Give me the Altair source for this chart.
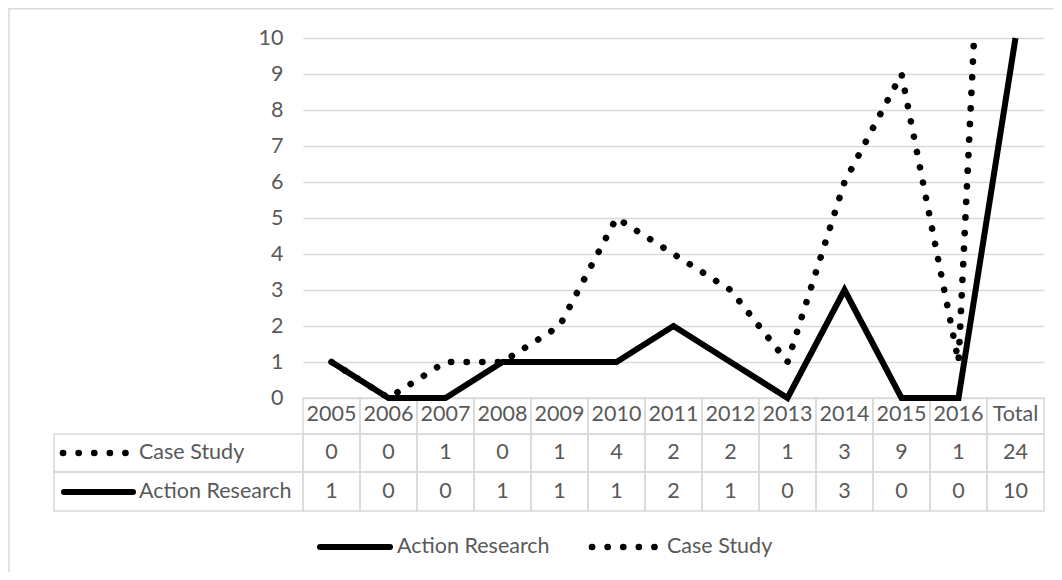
import altair as alt
import pandas as pd

categories = ["2005", "2006", "2007", "2008", "2009", "2010", "2011",
              "2012", "2013", "2014", "2015", "2016", "Total"]
case_study = [0, 0, 1, 0, 1, 4, 2, 2, 1, 3, 9, 1, 24]
action_research = [1, 0, 0, 1, 1, 1, 2, 1, 0, 3, 0, 0, 10]
y_ticks = list(range(0, 11))

FONT = "Lato"
FS = 21.5
GREY = "#595959"
GRID = "#d9d9d9"
DOTS = [0.1, 15.5]
LW = 6
DW = 6.6

# stacked line chart: Case Study is drawn on top of Action Research
lines_df = pd.DataFrame({
    "cat": categories * 2,
    "series": ["Action Research"] * len(categories) + ["Case Study"] * len(categories),
    "value": action_research + [a + c for a, c in zip(action_research, case_study)],
})
table_df = pd.DataFrame({"cat": categories, "cs": case_study, "ar": action_research})
one = alt.Data(values=[{"a": 1}])

x_enc = alt.X("cat:N", sort=categories,
              scale=alt.Scale(type="band", domain=categories, paddingInner=0, paddingOuter=0),
              axis=None)
x_line = alt.X("cat:N", sort=categories, bandPosition=0.5,
               scale=alt.Scale(type="band", domain=categories, paddingInner=0, paddingOuter=0),
               axis=None)
y_enc = alt.Y("value:Q", scale=alt.Scale(domain=[0, 10], nice=False, zero=True),
              axis=alt.Axis(values=y_ticks, grid=True, gridColor=GRID, gridWidth=1.5,
                            domain=False, ticks=False, labelPadding=20, labelFont=FONT,
                            labelFontSize=FS, labelColor=GREY, title=None))

border = alt.Chart(one).mark_rect(filled=False, stroke=GRID, strokeWidth=1.5).encode(
    x=alt.value(-294), x2=alt.value(800), y=alt.value(-29.3), y2=alt.value(600))

case_line = alt.Chart(lines_df).transform_filter(alt.datum.series == "Case Study").mark_line(
    color="black", strokeWidth=DW, strokeDash=DOTS, strokeCap="round", clip=True
).encode(x=x_line, y=y_enc)

action_line = alt.Chart(lines_df).transform_filter(alt.datum.series == "Action Research").mark_line(
    color="black", strokeWidth=LW
).encode(x=x_line, y=y_enc)

cell_kw = dict(filled=False, stroke=GRID, strokeWidth=1.5)
txt_kw = dict(font=FONT, fontSize=FS, color=GREY, baseline="middle")

rows = [  # (top, bottom, text centre) in px from the top of the plot area
    (360, 396, 377),
    (396, 434, 415),
    (434, 473, 454),
]

cells = []
for (t, b, _) in rows:
    cells.append(alt.Chart(table_df).mark_rect(**cell_kw).encode(
        x=x_enc, y=alt.value(t), y2=alt.value(b)))
for (t, b, _) in rows[1:]:
    cells.append(alt.Chart(one).mark_rect(**cell_kw).encode(
        x=alt.value(-249), x2=alt.value(0), y=alt.value(t), y2=alt.value(b)))

header_txt = alt.Chart(table_df).mark_text(align="center", **txt_kw).encode(
    x=x_line, y=alt.value(rows[0][2]), text="cat:N")
cs_txt = alt.Chart(table_df).mark_text(align="center", **txt_kw).encode(
    x=x_line, y=alt.value(rows[1][2]), text="cs:Q")
ar_txt = alt.Chart(table_df).mark_text(align="center", **txt_kw).encode(
    x=x_line, y=alt.value(rows[2][2]), text="ar:Q")

cs_name = alt.Data(values=[{"name": "Case Study"}])
ar_name = alt.Data(values=[{"name": "Action Research"}])

# row headers with keys
cs_key = alt.Chart(cs_name).mark_rule(color="black", strokeWidth=DW, strokeDash=DOTS,
                                       strokeCap="round").encode(
    x=alt.value(-240), x2=alt.value(-175), y=alt.value(rows[1][2]))
cs_lab = alt.Chart(cs_name).mark_text(align="left", **txt_kw).encode(
    x=alt.value(-164), y=alt.value(rows[1][2]), text="name:N")
ar_key = alt.Chart(ar_name).mark_rule(color="black", strokeWidth=LW, strokeCap="round").encode(
    x=alt.value(-239), x2=alt.value(-170), y=alt.value(rows[2][2]))
ar_lab = alt.Chart(ar_name).mark_text(align="left", **txt_kw).encode(
    x=alt.value(-164), y=alt.value(rows[2][2]), text="name:N")

# bottom legend
LEG_Y = 509
leg_ar_key = alt.Chart(ar_name).mark_rule(color="black", strokeWidth=LW, strokeCap="round").encode(
    x=alt.value(17), x2=alt.value(87), y=alt.value(LEG_Y))
leg_ar_lab = alt.Chart(ar_name).mark_text(align="left", **txt_kw).encode(
    x=alt.value(94), y=alt.value(LEG_Y), text="name:N")
leg_cs_key = alt.Chart(cs_name).mark_rule(color="black", strokeWidth=DW, strokeDash=DOTS,
                                           strokeCap="round").encode(
    x=alt.value(289), x2=alt.value(354), y=alt.value(LEG_Y))
leg_cs_lab = alt.Chart(cs_name).mark_text(align="left", **txt_kw).encode(
    x=alt.value(364), y=alt.value(LEG_Y), text="name:N")

chart = alt.layer(
    border, *cells, case_line, action_line,
    header_txt, cs_txt, ar_txt,
    cs_key, cs_lab, ar_key, ar_lab,
    leg_ar_key, leg_ar_lab, leg_cs_key, leg_cs_lab,
).properties(
    width=741, height=360,
    autosize=alt.AutoSizeParams(type="none"),
    padding={"left": 295, "top": 30, "right": 10, "bottom": 174},
    background="white",
).configure_view(stroke=None)

chart.save("out.html", embed_options={"renderer": "svg", "actions": False})
